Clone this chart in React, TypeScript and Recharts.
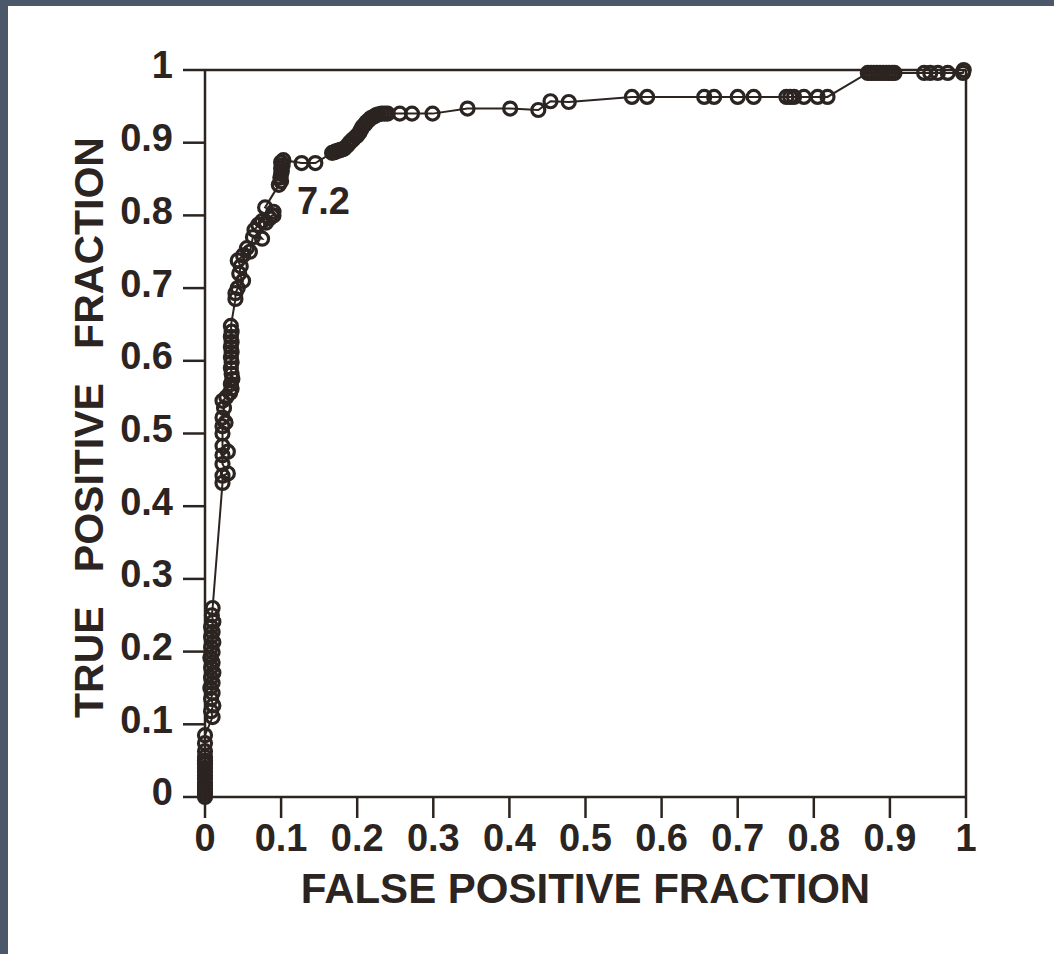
// ROC curve: true positive fraction vs false positive fraction
import { LineChart, Line, XAxis, YAxis, ReferenceLine, ReferenceDot } from 'recharts';

// operating points, in drawing order
const fpf = [
  0, 0, 0, 0, 0, 0, 0, 0, 0, 0, 0, 0, 0, 0, 0, 0,
  0.01, 0.008, 0.011, 0.008, 0.01, 0.007, 0.01, 0.008, 0.011, 0.008, 0.01, 0.007, 0.01, 0.008,
  0.011, 0.008, 0.01, 0.008, 0.011, 0.009, 0.01,
  0.023, 0.023, 0.03, 0.023, 0.023, 0.03, 0.023, 0.023, 0.023, 0.027, 0.023, 0.025, 0.023, 0.028,
  0.033, 0.035, 0.034, 0.036, 0.035, 0.034, 0.035, 0.034, 0.035, 0.034, 0.035, 0.034, 0.035, 0.034,
  0.04, 0.04, 0.043, 0.05, 0.045, 0.047, 0.043, 0.05, 0.055, 0.059, 0.063, 0.075, 0.065, 0.07,
  0.075, 0.08, 0.085, 0.088, 0.09, 0.09, 0.079,
  0.097, 0.1, 0.099, 0.1, 0.101, 0.1, 0.102, 0.1, 0.103, 0.127, 0.145,
  0.167, 0.17, 0.172, 0.175, 0.178, 0.181, 0.183, 0.187, 0.19, 0.193, 0.195, 0.198, 0.2, 0.203,
  0.205, 0.207, 0.21, 0.212, 0.215, 0.218, 0.222, 0.225, 0.228, 0.232, 0.236, 0.24,
  0.256, 0.272, 0.299, 0.345, 0.401, 0.438, 0.454, 0.478, 0.561, 0.581, 0.656, 0.669, 0.7, 0.721,
  0.764, 0.769, 0.774, 0.787, 0.805, 0.818,
  0.871, 0.875, 0.879, 0.883, 0.887, 0.891, 0.895, 0.899, 0.903, 0.906, 0.945, 0.953, 0.963,
  0.976, 0.996, 0.997,
];
const tpf = [
  0, 0.004, 0.008, 0.012, 0.016, 0.02, 0.025, 0.03, 0.035, 0.04, 0.045, 0.05, 0.055, 0.063, 0.074,
  0.085,
  0.11, 0.118, 0.126, 0.135, 0.143, 0.15, 0.157, 0.164, 0.171, 0.178, 0.185, 0.192, 0.199, 0.206,
  0.213, 0.22, 0.227, 0.234, 0.241, 0.25, 0.26,
  0.432, 0.442, 0.445, 0.458, 0.47, 0.475, 0.483, 0.5, 0.51, 0.515, 0.522, 0.535, 0.545, 0.55,
  0.556, 0.562, 0.568, 0.575, 0.582, 0.59, 0.598, 0.605, 0.612, 0.619, 0.626, 0.633, 0.64, 0.648,
  0.685, 0.693, 0.7, 0.71, 0.72, 0.73, 0.738, 0.745, 0.755, 0.75, 0.77, 0.768, 0.78, 0.787,
  0.792, 0.79, 0.796, 0.8, 0.8, 0.805, 0.811,
  0.842, 0.847, 0.852, 0.857, 0.861, 0.865, 0.869, 0.873, 0.876, 0.872, 0.872,
  0.886, 0.887, 0.888, 0.889, 0.89, 0.891, 0.892, 0.896, 0.9, 0.903, 0.905, 0.908, 0.91, 0.914,
  0.918, 0.922, 0.925, 0.928, 0.931, 0.934, 0.936, 0.938, 0.939, 0.94, 0.94, 0.94,
  0.94, 0.94, 0.94, 0.947, 0.947, 0.945, 0.957, 0.956, 0.963, 0.963, 0.963, 0.963, 0.963, 0.963,
  0.963, 0.963, 0.963, 0.963, 0.963, 0.963,
  0.996, 0.996, 0.996, 0.996, 0.996, 0.996, 0.996, 0.996, 0.996, 0.996, 0.996, 0.996, 0.996,
  0.996, 0.996, 1.0,
];

const axisTicks = [0, 0.1, 0.2, 0.3, 0.4, 0.5, 0.6, 0.7, 0.8, 0.9, 1];
const tickLabels = ['0', '0.1', '0.2', '0.3', '0.4', '0.5', '0.6', '0.7', '0.8', '0.9', '1'];

const data = fpf.map((x, i) => ({ fpf: x, tpf: tpf[i] }));

const INK = '#2b2421';
const FONT = "'Liberation Sans', Arial, Helvetica, sans-serif";

const fmt = (v: number) => tickLabels[axisTicks.indexOf(v)] ?? String(v);

// eslint-disable-next-line @typescript-eslint/no-explicit-any
const XLabel = (props: any) => {
  const vb = props.viewBox || {};
  return (
    <text x={vb.x + vb.width / 2} y={vb.y + 106} textAnchor="middle" fill={INK}
      fontSize={42} fontWeight={700} fontFamily={FONT}>
      FALSE POSITIVE FRACTION
    </text>
  );
};

// eslint-disable-next-line @typescript-eslint/no-explicit-any
const YLabel = (props: any) => {
  const vb = props.viewBox || {};
  const cx = vb.x + 80.5;
  const cy = vb.y + vb.height / 2 - 6;
  return (
    <text x={cx} y={cy} dy="0.355em" textAnchor="middle" fill={INK}
      fontSize={41} fontWeight={700} fontFamily={FONT}
      transform={`rotate(-90, ${cx}, ${cy})`}>
      {'TRUE\u00a0\u00a0\u00a0POSITIVE\u00a0\u00a0\u00a0FRACTION'}
    </text>
  );
};

// eslint-disable-next-line @typescript-eslint/no-explicit-any
const CutoffLabel = (props: any) => {
  const vb = props.viewBox || {};
  const cx = vb.x + (vb.width || 0) / 2;
  const cy = vb.y + (vb.height || 0) / 2;
  return (
    <text x={cx + 16} y={cy + 49} fill={INK} fontSize={38} fontWeight={700} fontFamily={FONT}>
      7.2
    </text>
  );
};

export default function App() {
  const tickStyle = { fill: INK, fontSize: 38, fontWeight: 700, fontFamily: FONT };
  const lineStyle = { stroke: INK, strokeWidth: 2.5 };
  return (
    <div style={{ position: 'fixed', left: 0, top: 0, width: 1054, height: 954, background: '#4a586a' }}>
      <div style={{ position: 'absolute', left: 8, top: 6, width: 1046, height: 948, background: '#ffffff' }}>
        <LineChart width={1046} height={948} data={data}
          margin={{ top: 64, right: 88, bottom: 57, left: 0 }}>
          <XAxis
            type="number"
            dataKey="fpf"
            domain={[0, 1]}
            ticks={axisTicks}
            tickFormatter={fmt}
            interval={0}
            height={100}
            axisLine={lineStyle}
            tickLine={lineStyle}
            tickSize={21}
            tickMargin={6}
            tick={tickStyle}
            label={{ content: XLabel }}
          />
          <YAxis
            type="number"
            domain={[0, 1]}
            ticks={axisTicks}
            tickFormatter={fmt}
            interval={0}
            width={197}
            axisLine={lineStyle}
            tickLine={lineStyle}
            tickSize={22}
            tickMargin={10}
            tick={{ ...tickStyle, dy: -5 }}
            label={{ content: YLabel }}
          />
          <ReferenceLine y={1} stroke={INK} strokeWidth={2.5} />
          <ReferenceLine x={1} stroke={INK} strokeWidth={2.5} />
          <Line
            type="linear"
            dataKey="tpf"
            stroke={INK}
            strokeWidth={2}
            dot={{ r: 6.5, fill: 'none', stroke: INK, strokeWidth: 3.2 }}
            activeDot={false}
            isAnimationActive={false}
          />
          <ReferenceDot x={0.1} y={0.87} r={1} fill="none" stroke="none" label={{ content: CutoffLabel }} />
        </LineChart>
      </div>
    </div>
  );
}
